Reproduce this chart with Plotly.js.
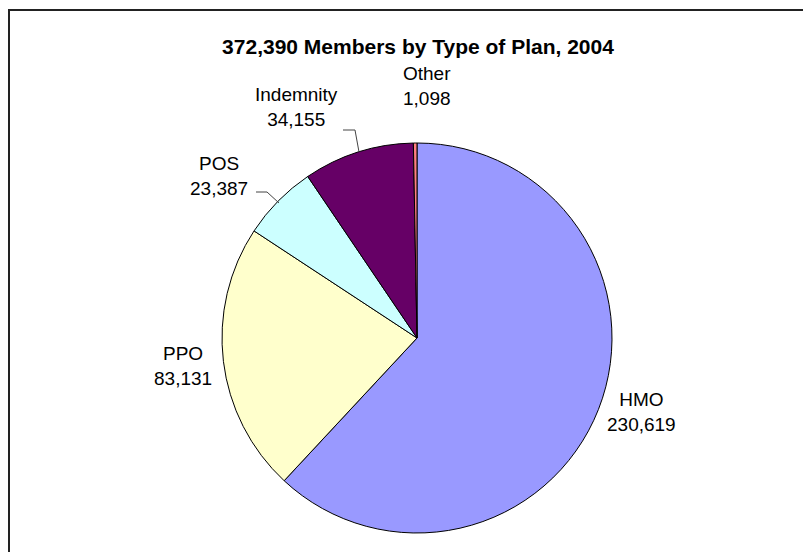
<!DOCTYPE html>
<html>
<head>
<meta charset="utf-8">
<script src="https://cdn.plot.ly/plotly-3.0.1.min.js"></script>
<style>html,body{margin:0;padding:0;background:#fff;}#chart{width:803px;height:552px;}</style>
</head>
<body>
<div id="chart"></div>
<script>
const categories = ["HMO", "PPO", "POS", "Indemnity", "Other"];
const members = [230619, 83131, 23387, 34155, 1098];
const sliceColors = ["#9999FF", "#FFFFCC", "#CCFFFF", "#660066", "#FF8080"];
const chartTitle = "372,390 Members by Type of Plan, 2004";

const W = 803, H = 552;
const px = x => x / W;
const py = y => 1 - y / H;

// label block centres (pixels) for each category
const labelPos = {
  "HMO": [641, 412],
  "PPO": [183, 366],
  "POS": [219, 176],
  "Indemnity": [296, 107],
  "Other": [427, 86]
};
const fmt = v => v.toLocaleString("en-US");

const annotations = categories.map((c, i) => ({
  xref: "paper", yref: "paper",
  x: px(labelPos[c][0]), y: py(labelPos[c][1]),
  xanchor: "center", yanchor: "middle",
  text: c + "<br>" + fmt(members[i]),
  showarrow: false,
  font: {family: "Liberation Sans, Arial, sans-serif", size: 19, color: "#000"}
}));

const leader = (pts) => ({
  type: "path", xref: "paper", yref: "paper",
  path: "M" + pts.map(p => px(p[0]) + "," + py(p[1])).join(" L"),
  line: {color: "#444", width: 1}
});

const shapes = [
  {type: "rect", xref: "paper", yref: "paper",
   x0: px(9), x1: 1.05, y0: -0.05, y1: py(10),
   line: {color: "#222", width: 2}, fillcolor: "rgba(0,0,0,0)"},
  leader([[343,130],[355,130],[359,152]]),
  leader([[256,192],[267,192],[279,203]])
];

const data = [{
  type: "pie",
  labels: categories,
  values: members,
  sort: false,
  direction: "clockwise",
  rotation: 0,
  marker: {colors: sliceColors, line: {color: "#000", width: 1}},
  textinfo: "none",
  hoverinfo: "label+value",
  domain: {x: [px(222), px(612)], y: [py(533), py(143)]},
  showlegend: false
}];

const layout = {
  width: W, height: H,
  margin: {l: 0, r: 0, t: 0, b: 0},
  paper_bgcolor: "#fff",
  title: {
    text: "<b>" + chartTitle + "</b>",
    font: {family: "Liberation Sans, Arial, sans-serif", size: 21, color: "#000"},
    x: px(418), xanchor: "center",
    y: py(47), yanchor: "middle", yref: "paper"
  },
  annotations: annotations,
  shapes: shapes,
  showlegend: false
};

Plotly.newPlot("chart", data, layout, {displayModeBar: false, staticPlot: true});
</script>
</body>
</html>
